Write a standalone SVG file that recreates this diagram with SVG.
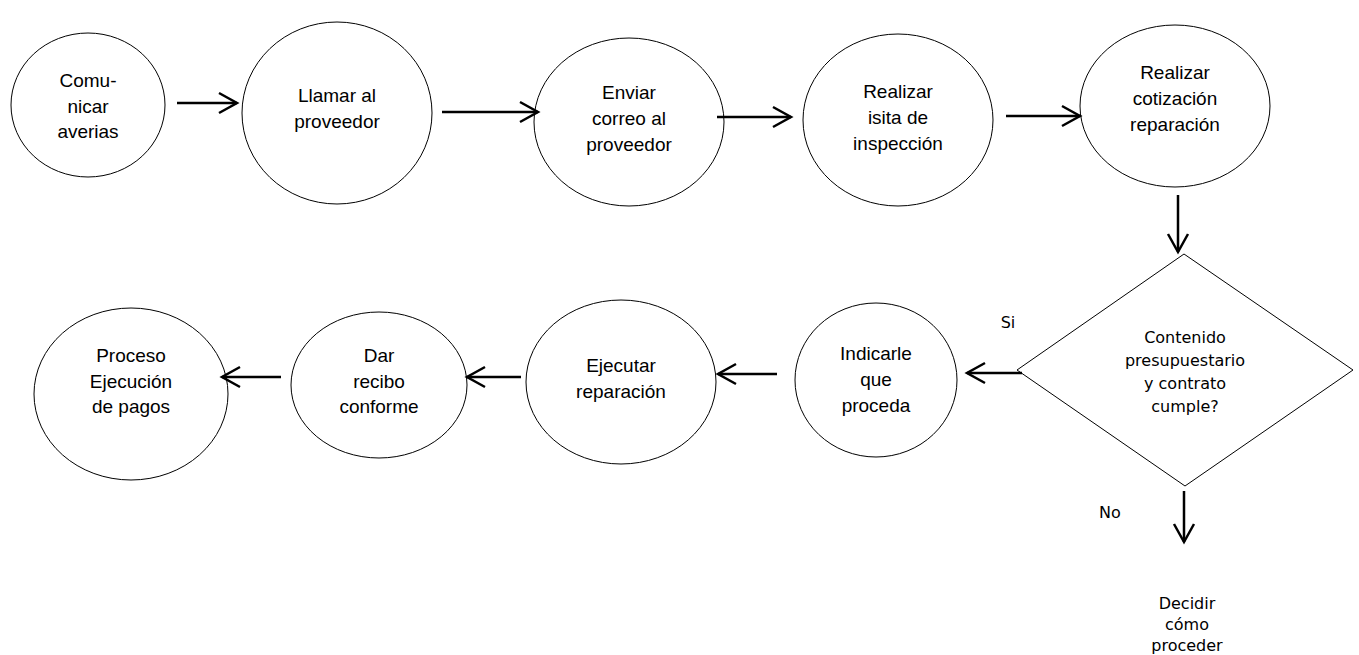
<svg xmlns="http://www.w3.org/2000/svg" width="1359" height="655" viewBox="0 0 1359 655">
<style>
.n{fill:#fff;stroke:#000;stroke-width:1}
.t{font-family:"Liberation Sans",Arial,sans-serif;font-size:19px;fill:#000;text-anchor:middle}
.d{font-family:"DejaVu Sans",Verdana,sans-serif;font-size:16px;fill:#000;text-anchor:middle}
.c{fill:none;stroke:#000;stroke-width:2.5}
</style>
<defs>
<marker id="ah" markerUnits="userSpaceOnUse" markerWidth="30" markerHeight="30" viewBox="-20 -15 30 30" refX="0" refY="0" orient="auto" overflow="visible">
<path d="M-18,-10 L0,0 L-18,10" fill="none" stroke="#000" stroke-width="2.5"/>
</marker>
</defs>
<rect width="1359" height="655" fill="#fff"/>
<g id="n1"><ellipse class="n" cx="88" cy="105" rx="77" ry="72"/>
<text class="t"><tspan x="88" y="87">Comu-</tspan><tspan x="88" y="113">nicar</tspan><tspan x="88" y="138">averias</tspan></text></g>
<g id="n2"><ellipse class="n" cx="337" cy="113" rx="95" ry="91"/>
<text class="t"><tspan x="337" y="102">Llamar al</tspan><tspan x="337" y="128">proveedor</tspan></text></g>
<g id="n3"><ellipse class="n" cx="629" cy="122" rx="95" ry="84"/>
<text class="t"><tspan x="629" y="99">Enviar</tspan><tspan x="629" y="125">correo al</tspan><tspan x="629" y="151">proveedor</tspan></text></g>
<g id="n4"><ellipse class="n" cx="898" cy="120" rx="95" ry="86"/>
<text class="t"><tspan x="898" y="98">Realizar</tspan><tspan x="898" y="124">isita de</tspan><tspan x="898" y="150">inspección</tspan></text></g>
<g id="n5"><ellipse class="n" cx="1175" cy="106" rx="95" ry="81"/>
<text class="t"><tspan x="1175" y="79">Realizar</tspan><tspan x="1175" y="105">cotización</tspan><tspan x="1175" y="131">reparación</tspan></text></g>
<g id="n6"><polygon class="n" points="1184,254 1353,370 1185,486 1017,370"/>
<text class="d"><tspan x="1185" y="343">Contenido</tspan><tspan x="1185" y="366">presupuestario</tspan><tspan x="1185" y="389">y contrato</tspan><tspan x="1185" y="412">cumple?</tspan></text></g>
<g id="n7"><ellipse class="n" cx="876" cy="380" rx="81" ry="77"/>
<text class="t"><tspan x="876" y="360">Indicarle</tspan><tspan x="876" y="386">que</tspan><tspan x="876" y="412">proceda</tspan></text></g>
<g id="n8"><ellipse class="n" cx="621" cy="382" rx="95" ry="82"/>
<text class="t"><tspan x="621" y="372">Ejecutar</tspan><tspan x="621" y="398">reparación</tspan></text></g>
<g id="n9"><ellipse class="n" cx="379" cy="385" rx="88" ry="73"/>
<text class="t"><tspan x="379" y="362">Dar</tspan><tspan x="379" y="388">recibo</tspan><tspan x="379" y="413">conforme</tspan></text></g>
<g id="n10"><ellipse class="n" cx="131" cy="394" rx="97" ry="86"/>
<text class="t"><tspan x="131" y="362">Proceso</tspan><tspan x="131" y="388">Ejecución</tspan><tspan x="131" y="413">de pagos</tspan></text></g>
<g id="n11"><text class="d"><tspan x="1187" y="609">Decidir</tspan><tspan x="1187" y="630">cómo</tspan><tspan x="1187" y="651">proceder</tspan></text></g>
<g id="connectors">
<line class="c" x1="177" y1="103" x2="237" y2="103" marker-end="url(#ah)"/>
<line class="c" x1="442" y1="112" x2="538" y2="112" marker-end="url(#ah)"/>
<line class="c" x1="717" y1="117" x2="791" y2="117" marker-end="url(#ah)"/>
<line class="c" x1="1006" y1="116" x2="1080" y2="116" marker-end="url(#ah)"/>
<line class="c" x1="1178" y1="195" x2="1178" y2="252" marker-end="url(#ah)"/>
<line class="c" x1="1022" y1="373" x2="967" y2="373" marker-end="url(#ah)"/>
<line class="c" x1="777" y1="374" x2="718" y2="374" marker-end="url(#ah)"/>
<line class="c" x1="521" y1="377" x2="467" y2="377" marker-end="url(#ah)"/>
<line class="c" x1="281" y1="377" x2="222" y2="377" marker-end="url(#ah)"/>
<line class="c" x1="1184" y1="491" x2="1184" y2="542" marker-end="url(#ah)"/>
<text class="d" x="1008" y="328">Si</text>
<text class="d" x="1110" y="518">No</text>
</g>
</svg>
